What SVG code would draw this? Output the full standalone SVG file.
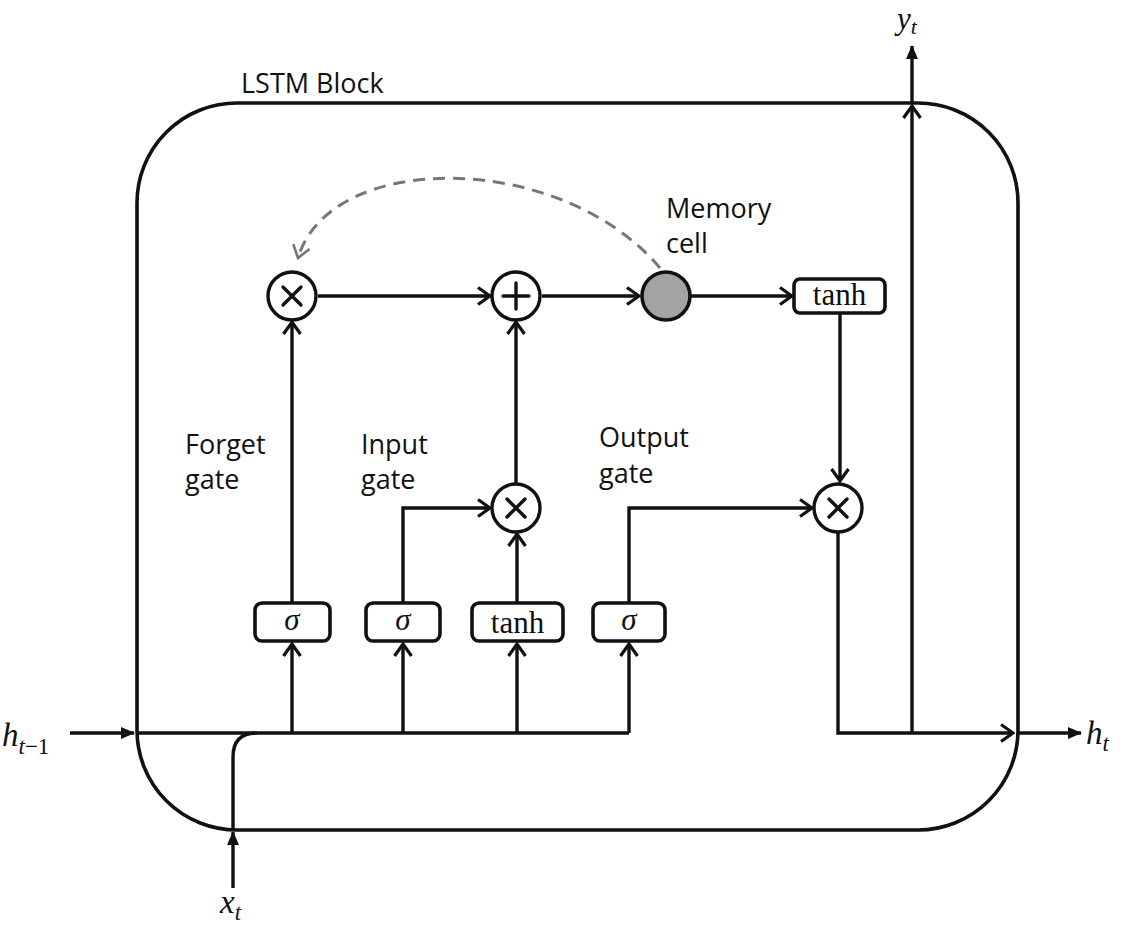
<svg xmlns="http://www.w3.org/2000/svg" width="1127" height="933" viewBox="0 0 1127 933">
<defs>
<marker id="open" viewBox="-14 -10 16 20" markerWidth="16" markerHeight="20" refX="0" refY="0" orient="auto" markerUnits="userSpaceOnUse">
<path d="M -12 -8.5 L 0 0 L -12 8.5" fill="none" stroke="#111" stroke-width="3.2" stroke-linejoin="miter"/>
</marker>
<marker id="gopen" viewBox="-14 -10 16 20" markerWidth="16" markerHeight="20" refX="0" refY="0" orient="auto" markerUnits="userSpaceOnUse">
<path d="M -12 -8.5 L 0 0 L -12 8.5" fill="none" stroke="#777" stroke-width="2.6"/>
</marker>
<marker id="fill" viewBox="-14 -7 15 14" markerWidth="15" markerHeight="14" refX="0" refY="0" orient="auto" markerUnits="userSpaceOnUse">
<path d="M -13 -6 L 1 0 L -13 6 Z" fill="#111"/>
</marker>
</defs>
<style>
.ln{fill:none;stroke:#111;stroke-width:3.4}
.arr{marker-end:url(#open)}
.farr{marker-end:url(#fill)}
.op{fill:#fff;stroke:#111;stroke-width:3.4}
.sym{stroke:#111;stroke-width:3.4;stroke-linecap:round}
.box{fill:#fff;stroke:#111;stroke-width:3.6}
.lbl{font-family:"Open Sans","Liberation Sans",sans-serif;font-size:27px;font-weight:500;fill:#111}
.mth{font-family:"Liberation Serif",serif;font-style:italic;fill:#111}
.fn{font-family:"Liberation Serif",serif;font-size:31px;fill:#111}
</style>
<rect x="0" y="0" width="1127" height="933" fill="#fff"/>
<g id="block">
<rect x="137" y="103" width="881" height="727" rx="100" ry="100" fill="none" stroke="#111" stroke-width="3.6"/>
<text class="lbl" x="241" y="93">LSTM Block</text>
</g>
<g id="connectors">
<path class="ln farr" d="M 70 733 H 134"/>
<path class="ln" d="M 137 733 H 629"/>
<path class="ln arr" d="M 292 733 V 644"/>
<path class="ln arr" d="M 403 733 V 644"/>
<path class="ln arr" d="M 517 733 V 644"/>
<path class="ln arr" d="M 629 733 V 644"/>
<path class="ln farr" d="M 233 888 V 832"/>
<path class="ln" d="M 233 830 V 757 Q 233 733 257 733"/>
<path class="ln arr" d="M 292 603 V 322"/>
<path class="ln arr" d="M 403 603 V 508 H 490"/>
<path class="ln arr" d="M 517 603 V 534"/>
<path class="ln arr" d="M 516 483 V 322"/>
<path class="ln arr" d="M 629 603 V 508 H 812"/>
<path class="ln arr" d="M 318 296 H 490"/>
<path class="ln arr" d="M 542 296 H 639"/>
<path class="ln arr" d="M 691 296 H 792"/>
<path class="ln arr" d="M 840 313 V 481"/>
<path class="ln arr" d="M 838 533 V 733 H 1013"/>
<path class="ln farr" d="M 1018 733 H 1081"/>
<path class="ln arr" d="M 912 733 V 106"/>
<path class="ln farr" d="M 912 103 V 46"/>
<path d="M 660 268 C 560 150, 330 150, 298 258" fill="none" stroke="#777" stroke-width="3" stroke-dasharray="12 8" marker-end="url(#gopen)"/>
</g>
<g id="forget-mult">
<circle class="op" cx="292" cy="296" r="24"/>
<path class="sym" d="M 283 287 L 301 305 M 301 287 L 283 305"/>
</g>
<g id="add">
<circle class="op" cx="516" cy="296" r="24"/>
<path class="sym" d="M 503 296 H 529 M 516 283 V 309"/>
</g>
<g id="memory-cell">
<circle cx="666" cy="296" r="24" fill="#a3a3a3" stroke="#111" stroke-width="3.6"/>
<text class="lbl" x="666" y="218">Memory</text>
<text class="lbl" x="666" y="253">cell</text>
</g>
<g id="tanh-out">
<rect class="box" x="794" y="279" width="91" height="34" rx="6"/>
<text class="fn" x="839.5" y="305" text-anchor="middle">tanh</text>
</g>
<g id="input-mult">
<circle class="op" cx="516" cy="508" r="24"/>
<path class="sym" d="M 507 499 L 525 517 M 525 499 L 507 517"/>
</g>
<g id="output-mult">
<circle class="op" cx="838" cy="508" r="24"/>
<path class="sym" d="M 829 499 L 847 517 M 847 499 L 829 517"/>
</g>
<g id="forget-gate">
<rect class="box" x="255" y="603" width="75" height="38" rx="7"/>
<text class="mth" x="292" y="630" font-size="31" text-anchor="middle">σ</text>
<text class="lbl" x="185" y="454">Forget</text>
<text class="lbl" x="185" y="489">gate</text>
</g>
<g id="input-gate">
<rect class="box" x="366" y="603" width="74" height="38" rx="7"/>
<text class="mth" x="403" y="630" font-size="31" text-anchor="middle">σ</text>
<text class="lbl" x="361" y="454">Input</text>
<text class="lbl" x="361" y="489">gate</text>
</g>
<g id="tanh-in">
<rect class="box" x="472" y="603" width="91" height="38" rx="7"/>
<text class="fn" x="517.5" y="633" text-anchor="middle">tanh</text>
</g>
<g id="output-gate">
<rect class="box" x="593" y="603" width="72" height="38" rx="7"/>
<text class="mth" x="629" y="630" font-size="31" text-anchor="middle">σ</text>
<text class="lbl" x="599" y="447">Output</text>
<text class="lbl" x="599" y="483">gate</text>
</g>
<g id="h-prev">
<text class="mth" x="2" y="746" font-size="33">h<tspan font-size="23" dy="8">t</tspan><tspan font-size="23" font-style="normal">−1</tspan></text>
</g>
<g id="x-t">
<text class="mth" x="220" y="913" font-size="33">x<tspan font-size="23" dy="7">t</tspan></text>
</g>
<g id="y-t">
<text class="mth" x="897" y="29" font-size="31">y<tspan font-size="22" dy="5">t</tspan></text>
</g>
<g id="h-t">
<text class="mth" x="1086" y="744" font-size="33">h<tspan font-size="23" dy="7">t</tspan></text>
</g>
</svg>
